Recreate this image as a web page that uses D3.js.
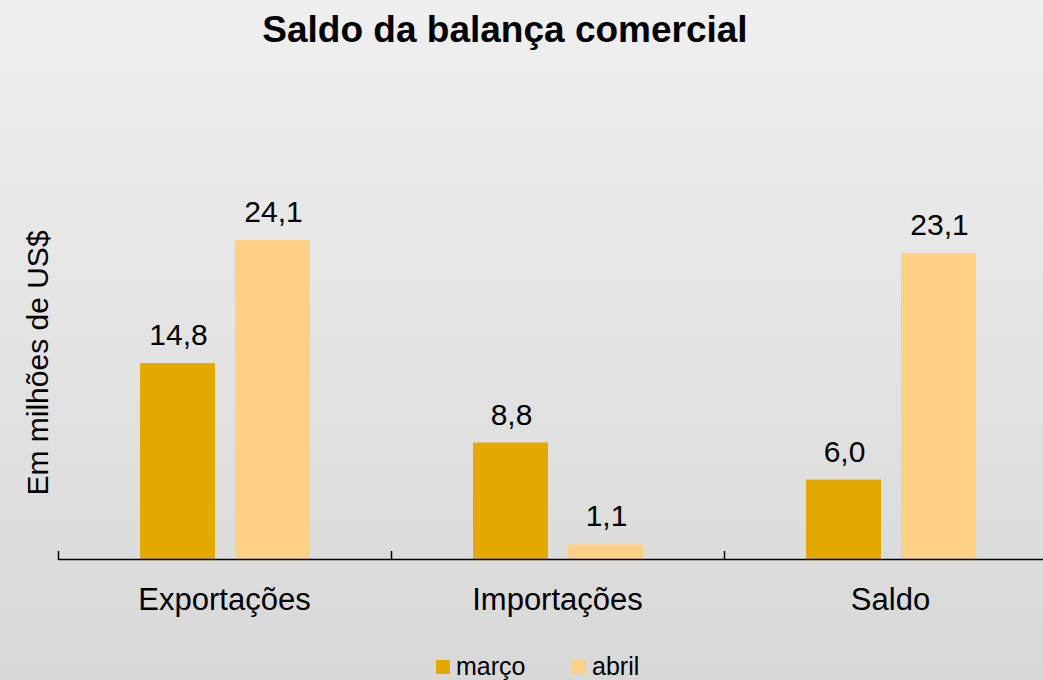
<!DOCTYPE html>
<html>
<head>
<meta charset="utf-8">
<script src="https://cdn.jsdelivr.net/npm/d3@7"></script>
<style>
  body { margin: 0; }
  svg { display: block; font-family: "Liberation Sans", Arial, sans-serif; }
</style>
</head>
<body>
<div id="chart"></div>
<script>
const categories = ["Exportações", "Importações", "Saldo"]
const series = ["março", "abril"]
const marco = [14.8, 8.8, 6.0]
const abril = [24.1, 1.1, 23.1]
const colors = ["#e3a900", "#ffd086"]

const W = 1043, H = 680

const svg = d3.select("#chart").append("svg")
  .attr("width", W).attr("height", H)

const grad = svg.append("defs").append("linearGradient")
  .attr("id", "bg").attr("x1", 0).attr("y1", 0).attr("x2", 0).attr("y2", 1)
grad.append("stop").attr("offset", "0%").attr("stop-color", "#efefef")
grad.append("stop").attr("offset", "100%").attr("stop-color", "#d8d8d8")
svg.append("rect").attr("width", W).attr("height", H).attr("fill", "url(#bg)")

svg.append("text")
  .attr("x", 505).attr("y", 42)
  .attr("text-anchor", "middle")
  .attr("font-size", 37).attr("font-weight", "bold")
  .text("Saldo da balança comercial")

const x = d3.scaleBand().domain(categories).range([58, 1057])
// two bars of 75px with a 20px gap, 82px in from each band edge
const xs = d3.scaleBand().domain(series).range([82, 82 + 170]).paddingInner(20 / 95)
const y = d3.scaleLinear().domain([0, 24.1]).range([559, 240])

const rows = categories.map((c, i) => ({ cat: c, vals: [marco[i], abril[i]] }))

const groups = svg.selectAll("g.cat").data(rows).enter().append("g")
  .attr("transform", d => `translate(${x(d.cat)},0)`)

groups.selectAll("rect").data(d => d.vals.map((v, j) => ({ s: series[j], v: v, j: j })))
  .enter().append("rect")
  .attr("x", d => xs(d.s))
  .attr("width", xs.bandwidth())
  .attr("y", d => y(d.v))
  .attr("height", d => y(0) - y(d.v))
  .attr("fill", d => colors[d.j])

groups.selectAll("text.val").data(d => d.vals.map((v, j) => ({ s: series[j], v: v })))
  .enter().append("text")
  .attr("x", d => xs(d.s) + xs.bandwidth() / 2 + 1)
  .attr("y", d => y(d.v) - 18)
  .attr("text-anchor", "middle")
  .attr("font-size", 30)
  .text(d => d3.format(".1f")(d.v).replace(".", ","))

// axis line with inward ticks at band edges
const axis = svg.append("g")
axis.append("line")
  .attr("x1", 58).attr("x2", W).attr("y1", 559.5).attr("y2", 559.5)
  .attr("stroke", "#000").attr("stroke-width", 1.5)
axis.selectAll("line.tick").data(categories).enter().append("line")
  .attr("x1", d => x(d) + 0.5).attr("x2", d => x(d) + 0.5)
  .attr("y1", 551).attr("y2", 560)
  .attr("stroke", "#000").attr("stroke-width", 1.5)

axis.selectAll("text").data(categories).enter().append("text")
  .attr("x", d => x(d) + x.bandwidth() / 2)
  .attr("y", 610)
  .attr("text-anchor", "middle")
  .attr("font-size", 31)
  .text(d => d)

svg.append("text")
  .attr("transform", "translate(48,363) rotate(-90)")
  .attr("text-anchor", "middle")
  .attr("font-size", 30)
  .text("Em milhões de US$")

const legend = svg.append("g")
const lx = [436, 572]
series.forEach((s, i) => {
  legend.append("rect")
    .attr("x", lx[i]).attr("y", 660).attr("width", 14).attr("height", 14)
    .attr("fill", colors[i])
  legend.append("text")
    .attr("x", lx[i] + 20).attr("y", 675)
    .attr("font-size", 25)
    .text(s)
})
</script>
</body>
</html>
